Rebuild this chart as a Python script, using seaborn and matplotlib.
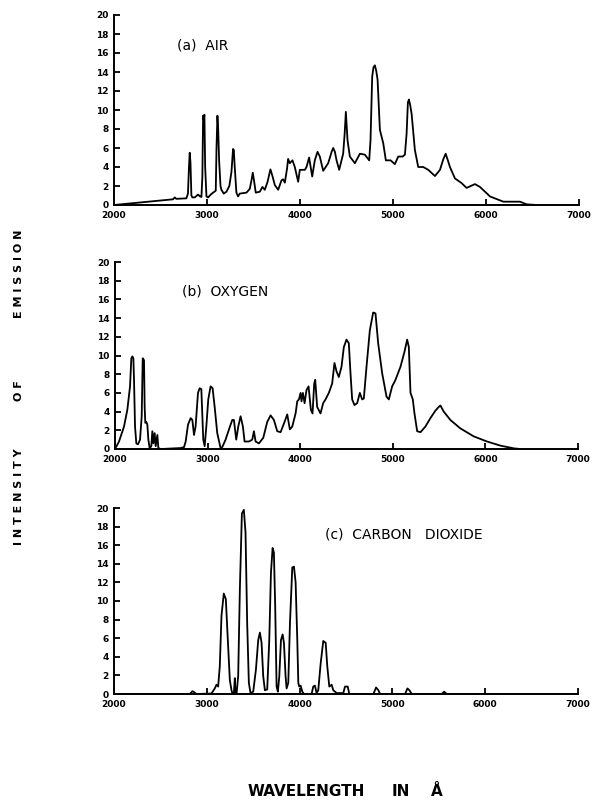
import matplotlib
matplotlib.use("Agg")
import matplotlib.pyplot as plt
import numpy as np
import pandas as pd
import seaborn as sns

# ---------------------------------------------------------------
# Emission spectra (wavelength in Angstrom, relative intensity)
# ---------------------------------------------------------------
air_wavelength = [
    2000, 2635, 2653, 2670, 2778, 2795, 2806, 2814, 2822, 2832,
    2843, 2868, 2904, 2925, 2940, 2950, 2958, 2965, 2972, 2980,
    2994, 3012, 3040, 3065, 3094, 3102, 3112, 3120, 3130, 3145,
    3155, 3180, 3209, 3240, 3263, 3280, 3288, 3298, 3316, 3334,
    3352, 3424, 3460, 3482, 3492, 3505, 3524, 3568, 3596, 3621,
    3650, 3682, 3705, 3729, 3765, 3801, 3819, 3837, 3860, 3872,
    3890, 3919, 3944, 3980, 3998, 4052, 4070, 4098, 4131, 4159,
    4188, 4213, 4249, 4303, 4340, 4357, 4375, 4393, 4421, 4464,
    4480, 4493, 4511, 4536, 4590, 4644, 4697, 4744, 4758, 4776,
    4790, 4805, 4820, 4834, 4859, 4895, 4923, 4974, 5020, 5056,
    5103, 5128, 5146, 5160, 5171, 5185, 5200, 5235, 5271, 5325,
    5379, 5451, 5505, 5540, 5566, 5590, 5612, 5666, 5738, 5791,
    5881, 5935, 6043, 6186, 6365, 6437, 6545,
]
air_intensity = [
    0.0, 0.6, 0.8, 0.65, 0.7, 1.2, 4.0, 5.5, 4.5, 1.0,
    0.8, 0.8, 1.1, 0.9, 0.85, 3.0, 9.4, 9.0, 9.5, 4.0,
    0.9, 0.8, 1.1, 1.3, 1.5, 6.0, 9.4, 8.0, 4.7, 2.0,
    1.6, 1.2, 1.4, 2.0, 3.5, 5.9, 5.8, 4.0, 1.3, 0.9,
    1.2, 1.3, 1.7, 2.8, 3.4, 2.6, 1.3, 1.4, 1.9, 1.6,
    2.4, 3.75, 3.0, 2.1, 1.6, 2.6, 2.7, 2.35, 3.8, 4.85,
    4.4, 4.7, 4.0, 2.45, 3.7, 3.7, 4.0, 5.0, 3.0, 4.7,
    5.6, 5.1, 3.6, 4.4, 5.6, 6.0, 5.6, 4.7, 3.7, 5.4,
    7.5, 9.8, 6.8, 5.1, 4.4, 5.4, 5.3, 4.7, 6.8, 13.5,
    14.5, 14.7, 14.1, 13.2, 7.9, 6.5, 4.7, 4.7, 4.3, 5.1,
    5.1, 5.3, 7.5, 10.8, 11.1, 10.5, 9.6, 5.8, 4.0, 4.0,
    3.7, 3.05, 3.7, 4.8, 5.4, 4.7, 4.0, 2.8, 2.3, 1.8,
    2.2, 1.9, 0.9, 0.35, 0.35, 0.07, 0.0,
]

oxygen_wavelength = [
    2000, 2043, 2097, 2133, 2162, 2176, 2187, 2198, 2205, 2216,
    2230, 2248, 2270, 2288, 2299, 2313, 2320, 2327, 2338, 2349,
    2360, 2374, 2392, 2403, 2414, 2428, 2439, 2457, 2468, 2493,
    2709, 2745, 2763, 2788, 2817, 2835, 2853, 2870, 2896, 2914,
    2932, 2953, 2968, 2986, 3007, 3032, 3054, 3076, 3104, 3140,
    3158, 3194, 3241, 3266, 3284, 3309, 3331, 3356, 3381, 3399,
    3446, 3482, 3500, 3518, 3554, 3601, 3644, 3680, 3716, 3752,
    3788, 3831, 3860, 3888, 3914, 3950, 3968, 3986, 4004, 4014,
    4029, 4047, 4068, 4090, 4115, 4133, 4151, 4162, 4183, 4219,
    4248, 4273, 4309, 4345, 4370, 4392, 4417, 4446, 4471, 4500,
    4525, 4543, 4561, 4586, 4615, 4644, 4669, 4687, 4716, 4752,
    4788, 4813, 4842, 4885, 4932, 4957, 4993, 5029, 5083, 5126,
    5155, 5173, 5191, 5216, 5234, 5263, 5299, 5352, 5406, 5460,
    5496, 5514, 5550, 5622, 5730, 5874, 6018, 6162, 6306, 6378,
]
oxygen_intensity = [
    0.0, 0.8, 2.4, 4.2, 6.7, 9.7, 9.9, 9.7, 7.4, 2.4,
    0.6, 0.5, 1.0, 3.5, 9.7, 9.5, 4.5, 2.8, 2.9, 2.6,
    1.0, 0.1, 0.3, 1.9, 0.6, 1.7, 0.3, 1.5, 0.1, 0.0,
    0.1, 0.2, 0.8, 2.6, 3.3, 3.1, 1.5, 2.4, 6.0, 6.5,
    6.4, 1.0, 0.3, 2.4, 5.3, 6.7, 6.5, 4.5, 1.7, 0.1,
    0.2, 1.0, 2.4, 3.1, 3.1, 1.0, 2.4, 3.5, 2.4, 0.8,
    0.8, 1.0, 1.9, 0.8, 0.6, 1.2, 2.9, 3.6, 3.1, 1.9,
    1.8, 2.9, 3.7, 2.1, 2.4, 3.8, 5.1, 5.3, 6.0, 5.1,
    6.0, 4.9, 6.3, 6.7, 4.2, 3.8, 7.0, 7.4, 4.5, 3.8,
    4.9, 5.3, 6.0, 7.0, 9.2, 8.3, 7.7, 8.8, 10.9, 11.7,
    11.3, 8.1, 5.3, 4.7, 4.9, 6.0, 5.3, 5.4, 8.8, 12.7,
    14.6, 14.5, 11.3, 8.1, 5.6, 5.3, 6.7, 7.4, 8.8, 10.4,
    11.7, 10.9, 6.0, 5.3, 3.8, 1.9, 1.8, 2.4, 3.3, 4.1,
    4.5, 4.65, 4.0, 3.1, 2.2, 1.35, 0.8, 0.36, 0.07, 0.0,
]

co2_wavelength = [
    2000, 2817, 2845, 2863, 2888, 3050, 3086, 3104, 3122, 3140,
    3158, 3183, 3205, 3223, 3248, 3266, 3277, 3291, 3302, 3309,
    3320, 3338, 3356, 3378, 3399, 3417, 3435, 3453, 3471, 3500,
    3529, 3554, 3572, 3590, 3608, 3626, 3651, 3673, 3691, 3709,
    3723, 3737, 3752, 3766, 3781, 3799, 3817, 3831, 3849, 3860,
    3878, 3896, 3921, 3939, 3957, 3975, 3986, 3996, 4011, 4029,
    4047, 4129, 4147, 4165, 4183, 4201, 4227, 4255, 4281, 4298,
    4320, 4345, 4363, 4399, 4471, 4489, 4518, 4536, 4795, 4824,
    4849, 4867, 5137, 5162, 5183, 5209, 5532, 5557, 5586, 6953,
]
co2_intensity = [
    0.0, 0.0, 0.3, 0.2, 0.0, 0.05, 0.6, 1.0, 0.8, 3.0,
    8.4, 10.8, 10.2, 6.5, 1.5, 0.4, 0.0, 0.0, 1.7, 0.0,
    0.0, 1.9, 11.2, 19.4, 19.8, 17.4, 7.6, 1.2, 0.1, 0.25,
    2.6, 5.8, 6.6, 5.5, 1.9, 0.4, 0.5, 5.8, 13.0, 15.7,
    15.2, 9.4, 0.8, 0.25, 1.9, 5.8, 6.4, 5.5, 1.9, 0.6,
    1.2, 7.6, 13.6, 13.7, 12.0, 5.8, 1.2, 0.8, 0.9, 0.25,
    0.0, 0.0, 0.8, 0.9, 0.1, 0.4, 3.3, 5.7, 5.5, 3.0,
    0.8, 1.0, 0.4, 0.1, 0.1, 0.8, 0.8, 0.0, 0.0, 0.7,
    0.4, 0.0, 0.0, 0.6, 0.4, 0.0, 0.0, 0.25, 0.0, 0.0,
]

panel_titles = ["(a)  AIR", "(b)  OXYGEN", "(c)  CARBON   DIOXIDE"]
title_anchor = [(2677, 16.8), (2723, 16.8), (4274, 17.1)]
x_ticks = [2000, 3000, 4000, 5000, 6000, 7000]
y_ticks = list(range(0, 21, 2))

frames = []
for name, wl, inten in [("air", air_wavelength, air_intensity),
                        ("oxygen", oxygen_wavelength, oxygen_intensity),
                        ("co2", co2_wavelength, co2_intensity)]:
    frames.append(pd.DataFrame({"gas": name, "wavelength": wl,
                                "intensity": inten, "order": np.arange(len(wl))}))
spectra = pd.concat(frames, ignore_index=True)

# ---------------------------------------------------------------
# Figure
# ---------------------------------------------------------------
sns.set_style("ticks")
plt.rcParams["font.family"] = ["DejaVu Sans"]

fig = plt.figure(figsize=(5.96, 8.0), dpi=100)

# panel rectangles in figure fractions (left, bottom, width, height)
rects = [
    (0.1913, 0.74375, 0.7802, 0.2375),
    (0.1930, 0.43875, 0.7768, 0.23375),
    (0.1913, 0.1325, 0.7785, 0.2325),
]

for gas, rect, title, anchor in zip(["air", "oxygen", "co2"], rects,
                                    panel_titles, title_anchor):
    ax = fig.add_axes(rect)
    sub = spectra[spectra["gas"] == gas]
    sns.lineplot(data=sub, x="wavelength", y="intensity", sort=False,
                 estimator=None, color="black", linewidth=1.3, ax=ax)
    ax.set_xlim(2000, 7000)
    ax.set_ylim(0, 20)
    ax.set_xticks(x_ticks)
    ax.set_yticks(y_ticks)
    ax.set_xlabel("")
    ax.set_ylabel("")
    for side in ("top", "right"):
        ax.spines[side].set_visible(False)
    for side in ("left", "bottom"):
        ax.spines[side].set_linewidth(1.4)
        ax.spines[side].set_color("black")
    ax.tick_params(direction="in", length=4, width=1.3, colors="black",
                   labelsize=6.5, pad=4)
    for lab in ax.get_xticklabels() + ax.get_yticklabels():
        lab.set_fontweight("bold")
    ax.text(anchor[0], anchor[1], title, fontsize=10, va="center",
            ha="left", color="black")

# vertical axis caption, written as three spaced words
for word, yc in [("I N T E N S I T Y", 0.3794), ("O F", 0.5112),
                 ("E M I S S I O N", 0.6581)]:
    fig.text(0.032, yc, word, rotation=90, ha="center", va="center",
             fontsize=8, fontweight="bold", color="black")

# horizontal axis caption
for word, xc in [("WAVELENGTH", 0.5134), ("IN", 0.6728), ("Å", 0.7324)]:
    fig.text(xc, 0.005, word, ha="center", va="baseline",
             fontsize=11, fontweight="bold", color="black")

fig.savefig("out.png", dpi=100, facecolor="white")
